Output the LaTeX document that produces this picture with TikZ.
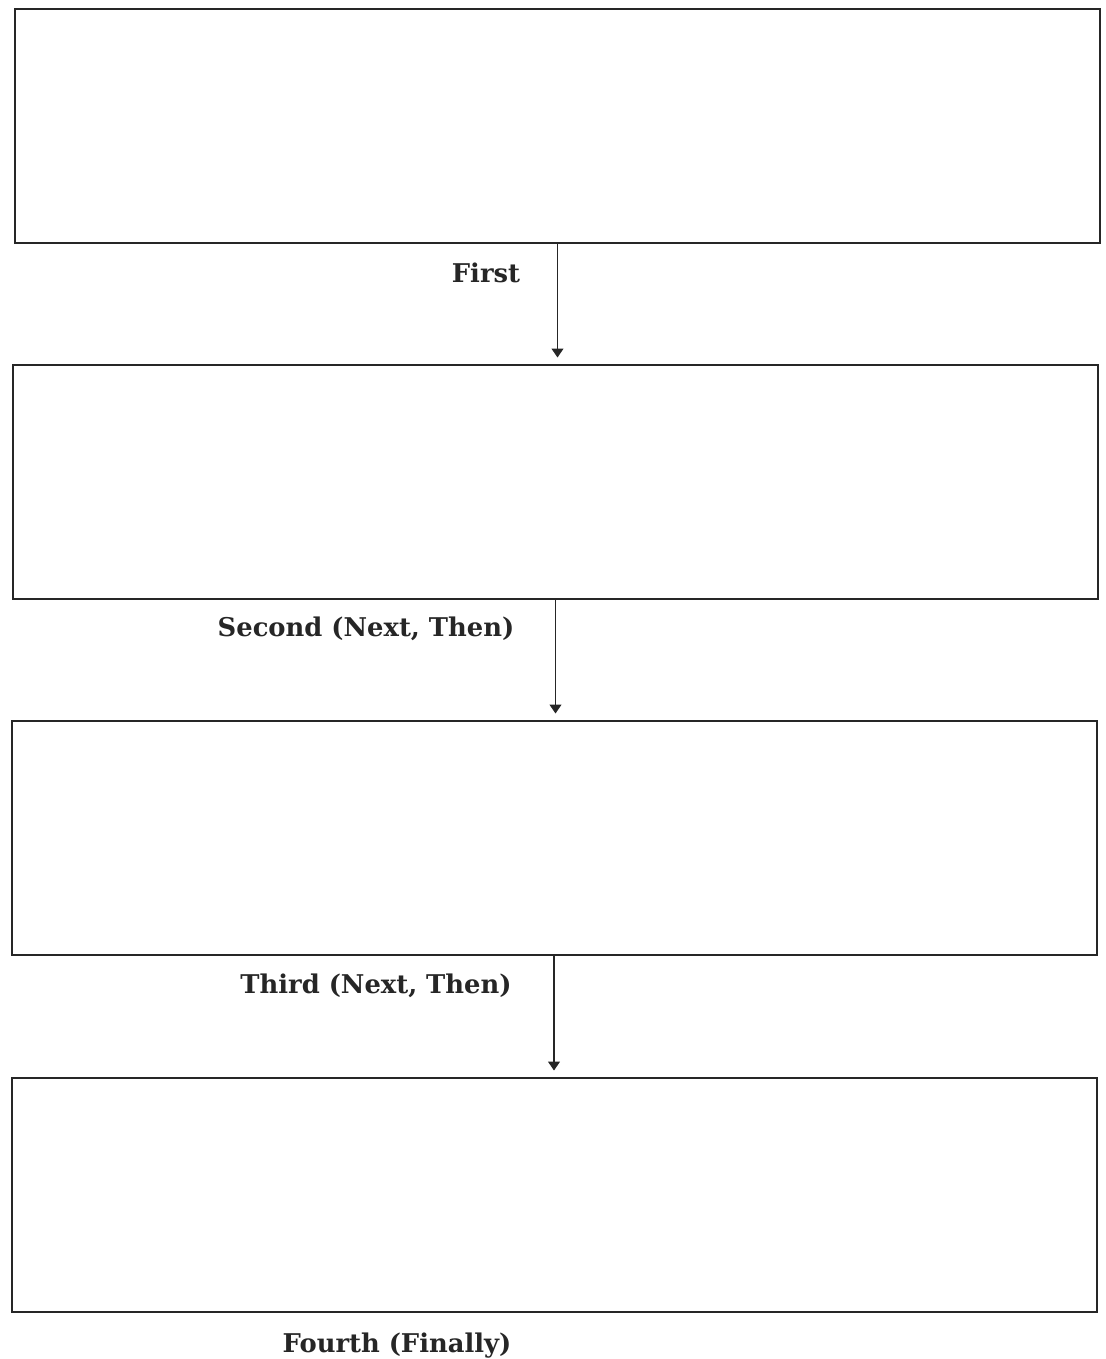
\documentclass[tikz,border=0pt]{standalone}
\usepackage{fontspec}
\setmainfont{DejaVu Serif}
\usetikzlibrary{arrows.meta}
\begin{document}
\begin{tikzpicture}[x=1pt,y=-1pt,
  panel/.style={draw=black!85,line width=2pt,minimum width=1085pt,minimum height=234pt,inner sep=0pt,outer sep=0pt},
  link/.style={draw=black!85,line width=1.1pt,-{Triangle[length=9pt,width=12pt]}},
  lbl/.style={font=\fontsize{25.8}{30}\selectfont\bfseries,text=black!85,inner sep=0pt,anchor=base}]
\useasboundingbox (0,0) rectangle (1105,1359);
\node[panel] (p1) at (557.5,126) {};
\node[panel] (p2) at (555.5,481.5) {};
\node[panel] (p3) at (554,837.5) {};
\node[panel] (p4) at (554,1194.5) {};
\coordinate (e1) at (p1.south |- p2.north);
\coordinate (e2) at (p2.south |- p3.north);
\coordinate (e3) at (p3.south |- p4.north);
\draw[link] (p1.south) -- ([yshift=7pt]e1);
\draw[link] (p2.south) -- ([yshift=7pt]e2);
\draw[link] (p3.south) -- ([yshift=7pt]e3);
\node[lbl] (t1) at (486,282) {First};
\node[lbl] (t2) at (366,636) {Second (Next, Then)};
\node[lbl] (t3) at (376,993) {Third (Next, Then)};
\node[lbl] (t4) at (397,1352) {Fourth (Finally)};
\end{tikzpicture}
\end{document}
